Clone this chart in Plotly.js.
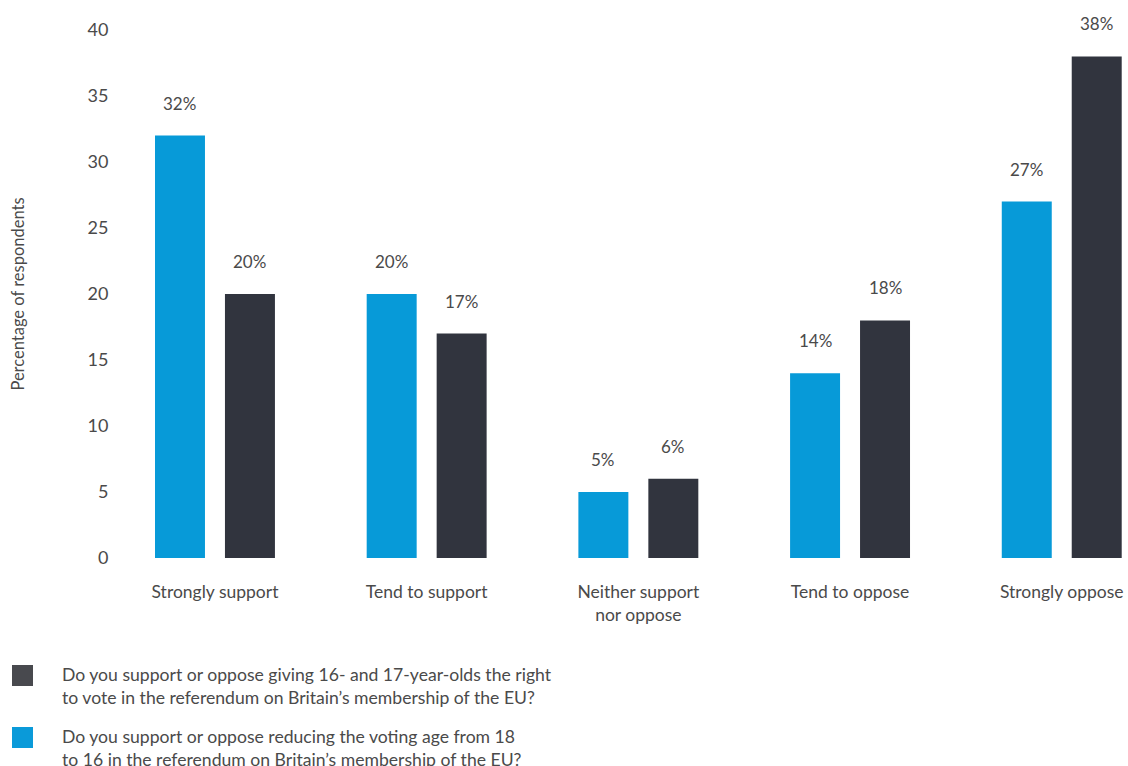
<!DOCTYPE html>
<html>
<head>
<meta charset="utf-8">
<script src="https://cdn.plot.ly/plotly-3.0.1.min.js"></script>
<style>html,body{margin:0;padding:0;background:#fff;}#chart{width:1128px;height:766px;}</style>
</head>
<body>
<div id="chart"></div>
<script>
const categories = ['Strongly support', 'Tend to support', 'Neither support<br>nor oppose', 'Tend to oppose', 'Strongly oppose'];
const reduceAgeValues = [32, 20, 5, 14, 27];
const give1617Values = [20, 17, 6, 18, 38];
const seriesNames = [
  'Do you support or oppose reducing the voting age from 18<br>to 16 in the referendum on Britain’s membership of the EU?',
  'Do you support or oppose giving 16- and 17-year-olds the right<br>to vote in the referendum on Britain’s membership of the EU?'
];
const yTicks = [0, 5, 10, 15, 20, 25, 30, 35, 40];

const BLUE = '#079ad8';
const DARK = '#31343e';
const TEXT = '#4a4a4a';
const FONT = 'Lato, "Open Sans", sans-serif';

const traces = [
  {type: 'bar', name: seriesNames[0], x: categories, y: reduceAgeValues, marker: {color: BLUE}, hoverinfo: 'x+y', showlegend: false},
  {type: 'bar', name: seriesNames[1], x: categories, y: give1617Values, marker: {color: DARK}, hoverinfo: 'x+y', showlegend: false}
];

const annotations = [];
categories.forEach((c, i) => {
  annotations.push({x: c, y: reduceAgeValues[i], xref: 'x', yref: 'y', text: reduceAgeValues[i] + '%', showarrow: false, xshift: -35, yshift: 20, yanchor: 'bottom', font: {family: FONT, size: 17, color: TEXT}});
  annotations.push({x: c, y: give1617Values[i], xref: 'x', yref: 'y', text: give1617Values[i] + '%', showarrow: false, xshift: 35, yshift: 20, yanchor: 'bottom', font: {family: FONT, size: 17, color: TEXT}});
});

// custom legend (dark first, then blue)
const legendItems = [
  {name: seriesNames[1], color: '#48494e', top: 665},
  {name: seriesNames[0], color: '#0a9ad9', top: 727}
];
const shapes = [];
const H = 766, W = 1128;
legendItems.forEach(it => {
  shapes.push({type: 'rect', xref: 'paper', yref: 'paper',
    x0: (12 - 125) / 1003, x1: (33 - 125) / 1003,
    y0: (558 - (it.top + 21)) / 528, y1: (558 - it.top) / 528,
    fillcolor: it.color, line: {width: 0}});
  annotations.push({xref: 'paper', yref: 'paper', x: (60 - 125) / 1003, y: (558 - (it.top - 3)) / 528,
    xanchor: 'left', yanchor: 'top', align: 'left', showarrow: false, text: it.name,
    font: {family: FONT, size: 17.6, color: TEXT}});
});

const layout = {
  width: W, height: H,
  margin: {l: 125, r: 0, t: 30, b: 208},
  paper_bgcolor: '#fff', plot_bgcolor: '#fff',
  font: {family: FONT, color: TEXT},
  barmode: 'group', bargap: 0.339, bargroupgap: 0.2857,
  xaxis: {type: 'category', range: [-0.425, 4.313], showgrid: false, zeroline: false, showline: false,
    ticks: 'outside', ticklen: 18, tickcolor: 'rgba(0,0,0,0)', tickfont: {family: FONT, size: 17.5, color: TEXT}},
  yaxis: {range: [0, 40], tickvals: yTicks, showgrid: false, zeroline: false, showline: false,
    ticks: 'outside', ticklen: 12, tickcolor: 'rgba(0,0,0,0)', tickfont: {family: FONT, size: 18, color: TEXT},
    title: {text: 'Percentage of respondents', standoff: 58, font: {family: FONT, size: 16.5, color: TEXT}}},
  annotations: annotations,
  shapes: shapes
};

Plotly.newPlot('chart', traces, layout, {displayModeBar: false, staticPlot: true});
</script>
</body>
</html>
